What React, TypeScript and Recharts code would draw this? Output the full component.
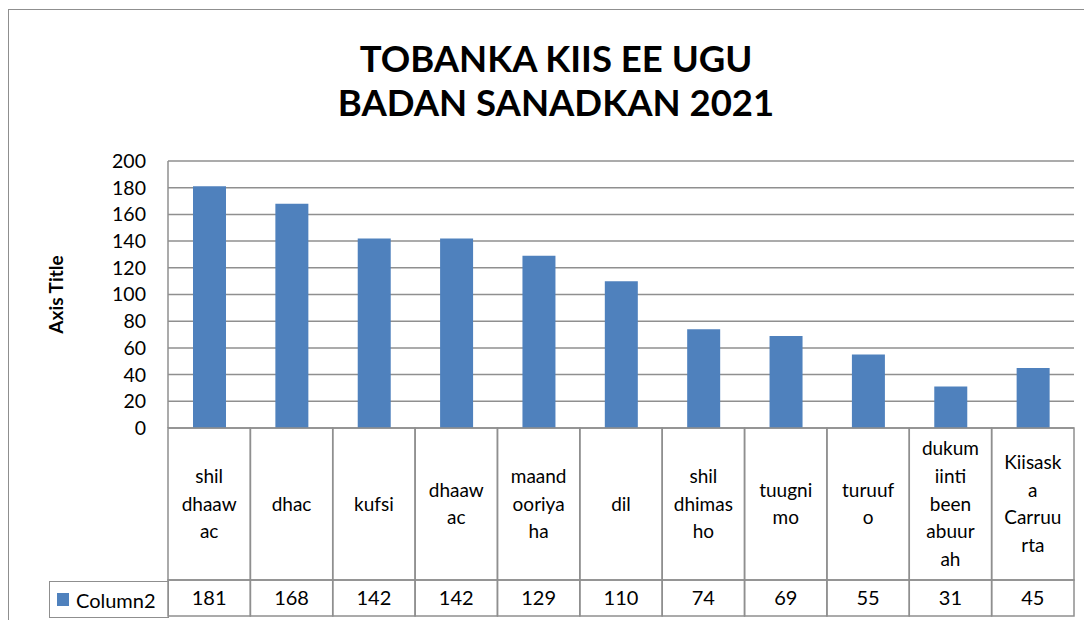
import { BarChart, Bar, XAxis, YAxis, CartesianGrid, Legend } from "recharts";

const TITLE_LINES = ["TOBANKA KIIS EE UGU", "BADAN SANADKAN 2021"];
const CATEGORIES = [
    "shil dhaawac", "dhac", "kufsi", "dhaawac", "maandooriyaha", "dil",
    "shil dhimasho", "tuugnimo", "turuufo", "dukumiinti been abuurah", "Kiisaska Carruurta",
];
// how each category name wraps inside its table cell
const CATEGORY_LINES = [
    ["shil", "dhaaw", "ac"], ["dhac"], ["kufsi"], ["dhaaw", "ac"], ["maand", "ooriya", "ha"], ["dil"],
    ["shil", "dhimas", "ho"], ["tuugni", "mo"], ["turuuf", "o"], ["dukum", "iinti", "been", "abuur", "ah"],
    ["Kiisask", "a", "Carruu", "rta"],
];
const VALUES = [181, 168, 142, 142, 129, 110, 74, 69, 55, 31, 45];
const Y_TICKS = [0, 20, 40, 60, 80, 100, 120, 140, 160, 180, 200];
const SERIES_NAME = "Column2";
const AXIS_TITLE = "Axis Title";

const BLUE = "#4F81BD";
const GRID = "#8f8f8f";
const FONT = "Lato, 'Noto Sans', sans-serif";

const W = 1084;
const H = 612;
const ROW1 = 152;
const ROW2 = 36;

const data = CATEGORIES.map((name, i) => ({ name, value: VALUES[i], lines: CATEGORY_LINES[i] }));

function TableTick(props: any) {
    const { x, y, index, width, visibleTicksCount, payload } = props;
    const cw = width / visibleTicksCount;
    const x0 = x - cw / 2;
    const lines: string[] = data[index]?.lines ?? [payload.value];
    const mid = y + ROW1 / 2;
    const lh = 27.8;
    return (
        <g>
            <rect x={x0} y={y} width={cw} height={ROW1} fill="none" stroke={GRID} strokeWidth={1.5} />
            <rect x={x0} y={y + ROW1} width={cw} height={ROW2} fill="none" stroke={GRID} strokeWidth={1.5} />
            {lines.map((l, i) => (
                <text key={i} x={x} y={mid + (i - (lines.length - 1) / 2) * lh + 6.5}
                    textAnchor="middle" fontSize={19} fill="#000" fontFamily={FONT}>{l}</text>
            ))}
            <text x={x} y={y + ROW1 + ROW2 / 2 + 7} textAnchor="middle" fontSize={20} fill="#000" fontFamily={FONT}>
                {data[index]?.value}
            </text>
        </g>
    );
}

export default function App() {
    return (
        <div style={{ position: "relative", width: W, height: H, overflow: "hidden", fontFamily: FONT }}>
            <div style={{ position: "absolute", left: 0, top: 1, width: W + 20, height: H + 20, borderLeft: `1.5px solid ${GRID}`, borderTop: `1.5px solid ${GRID}` }} />
            <svg width={W} height={145} style={{ position: "absolute", left: 0, top: 0 }}>
                {TITLE_LINES.map((t, i) => (
                    <text key={i} x={548} y={64 + i * 44} textAnchor="middle" fontSize={36.5} fontWeight={700} fontFamily={FONT} fill="#000">{t}</text>
                ))}
            </svg>
            <BarChart width={W} height={H} data={data} margin={{ top: 153, right: 18, bottom: 0, left: 0 }}
                style={{ position: "absolute", left: 0, top: 0 }}>
                <CartesianGrid vertical={false} stroke={GRID} strokeWidth={1.5} />
                <XAxis dataKey="name" height={192} tickSize={0} tickMargin={0} axisLine={false} tickLine={false}
                    interval={0} tick={<TableTick />} />
                <YAxis width={160} domain={[0, 200]} ticks={Y_TICKS} interval={0} tickLine={false} tickSize={6} tickMargin={16}
                    axisLine={{ stroke: GRID, strokeWidth: 1.5 }}
                    tick={{ fontSize: 19.5, fill: "#000", fontFamily: FONT }}
                    label={{
                        content: (p: any) => {
                            const vb = p.viewBox;
                            const cx = vb.x + 47;
                            const cy = vb.y + vb.height / 2;
                            return (
                                <text x={cx} y={cy} transform={`rotate(-90, ${cx}, ${cy})`} textAnchor="middle"
                                    dominantBaseline="central" fontSize={19} fontWeight={700} fontFamily={FONT} fill="#000">
                                    {AXIS_TITLE}
                                </text>
                            );
                        },
                    }} />
                <Bar dataKey="value" name={SERIES_NAME} fill={BLUE} barSize={33} isAnimationActive={false} />
                <Legend layout="vertical" align="center" verticalAlign="middle"
                    wrapperStyle={{ position: "absolute", left: 41, top: 573, width: 120, height: 37, margin: 0 }}
                    content={() => (
                        <div style={{
                            boxSizing: "border-box", width: 120, height: 37, border: `1.5px solid ${GRID}`,
                            display: "flex", alignItems: "center", paddingLeft: 7, fontSize: 20, color: "#000", fontFamily: FONT,
                        }}>
                            <span style={{ display: "inline-block", width: 12, height: 13, background: BLUE, marginRight: 7 }} />
                            <span>{SERIES_NAME}</span>
                        </div>
                    )} />
            </BarChart>
        </div>
    );
}
